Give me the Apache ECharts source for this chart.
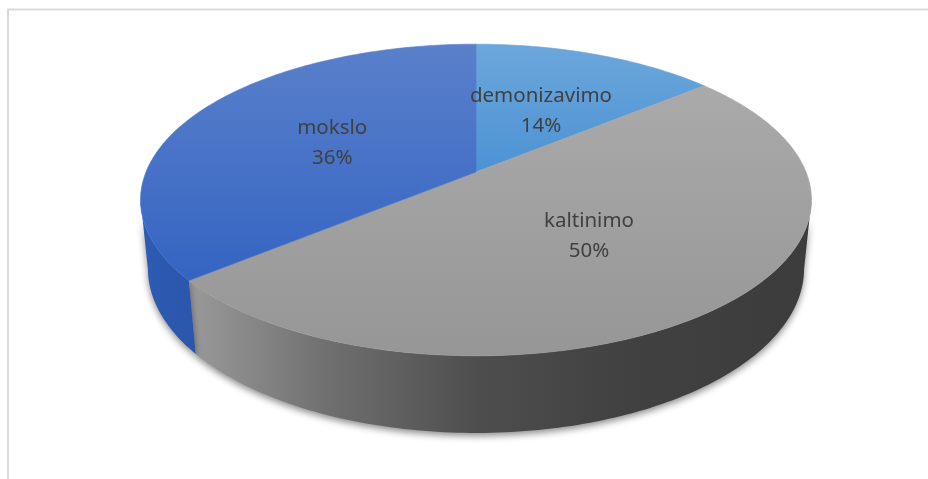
<!DOCTYPE html>
<html>
<head>
<meta charset="utf-8">
<script src="https://cdn.jsdelivr.net/npm/echarts@6/dist/echarts.min.js"></script>
<style>
  html, body { margin: 0; padding: 0; background: #fff; }
  #chart { width: 928px; height: 479px; }
</style>
</head>
<body>
<div id="chart"></div>
<script>
// data
var categories = ["demonizavimo", "kaltinimo", "mokslo"];
var values = [14, 50, 36];

// colours per slice (top face gradient)
var topColors = [
  ["#6ca7db", "#4c92d4"],
  ["#aaaaaa", "#969696"],
  ["#5a80cb", "#3464c2"]
];

var total = values.reduce(function (s, v) { return s + v; }, 0);
var startAngle = [];
var acc = 0;
for (var i = 0; i < values.length; i++) {
  startAngle.push(acc / total * 360);
  acc += values[i];
}

// 3d look: tilted disc with a bit of perspective
var cx = 476, cy = 172, k = 330;
var sinA = 0.457, cosA = 0.889, dist = 4.95, thick = 0.235;
var visFrom = Math.acos(-cosA / dist) * 180 / Math.PI; // left/right silhouette
var visTo = 360 - visFrom;

function proj(deg, r, level) {
  var t = deg * Math.PI / 180;
  var X = r * Math.sin(t), Z = -r * Math.cos(t), Y = level;
  var yc = Y * cosA - Z * sinA;
  var zc = Y * sinA + Z * cosA;
  var sc = dist / (dist - zc);
  return [cx + k * X * sc, cy - k * yc * sc];
}

function arc(a0, a1, level) {
  var pts = [];
  var n = Math.max(2, Math.ceil(Math.abs(a1 - a0)));
  for (var j = 0; j <= n; j++) {
    pts.push(proj(a0 + (a1 - a0) * j / n, 1, level));
  }
  return pts;
}

function wallFill(idx) {
  if (idx === 1) {
    return new echarts.graphic.LinearGradient(0, 0, 1, 0, [
      { offset: 0, color: "#9a9a9a" },
      { offset: 0.22, color: "#707070" },
      { offset: 0.46, color: "#4e4e4e" },
      { offset: 0.7, color: "#414141" },
      { offset: 1, color: "#3c3c3c" }
    ]);
  }
  if (idx === 2) {
    return new echarts.graphic.LinearGradient(0, 0, 1, 0, [
      { offset: 0, color: "#2d5cb3" },
      { offset: 1, color: "#2a56ab" }
    ]);
  }
  return "#3f7fc0";
}

function renderSlice(params, api) {
  var idx = params.dataIndex;
  var v = api.value(0);
  var a0 = startAngle[idx];
  var a1 = a0 + v / total * 360;
  var children = [];

  // side wall (only the front part is visible)
  var w0 = Math.max(a0, visFrom), w1 = Math.min(a1, visTo);
  if (w1 > w0) {
    var wall = arc(w0, w1, 0).concat(arc(w1, w0, -thick));
    children.push({
      type: "polygon",
      z2: 1,
      shape: { points: wall },
      style: {
        fill: wallFill(idx),
        shadowBlur: 7,
        shadowColor: "rgba(0,0,0,0.45)",
        shadowOffsetY: 3
      }
    });
  }

  // top face
  var grad = new echarts.graphic.LinearGradient(0, 0, 0, 1, [
    { offset: 0, color: topColors[idx][0] },
    { offset: 1, color: topColors[idx][1] }
  ]);
  var top = [proj(0, 0, 0)].concat(arc(a0, a1, 0));
  children.push({
    type: "polygon",
    z2: 10,
    shape: { points: top },
    style: { fill: grad, stroke: grad, lineWidth: 0.6 }
  });

  // label
  var mid = (a0 + a1) / 2;
  var lp = proj(mid, 0.5, 0);
  children.push({
    type: "text",
    z2: 20,
    x: lp[0],
    y: lp[1] + 2,
    style: {
      text: categories[idx] + "\n" + Math.round(v / total * 100) + "%",
      fill: "#404040",
      fontFamily: "Noto Sans",
      fontSize: 20.5,
      lineHeight: 30,
      align: "center",
      verticalAlign: "middle"
    }
  });

  return { type: "group", children: children };
}

var myChart = echarts.init(document.getElementById("chart"));
var option = {
  backgroundColor: "#ffffff",
  animation: false,
  graphic: [
    {
      type: "rect",
      shape: { x: 8, y: 9.5, width: 940, height: 500 },
      style: { fill: "none", stroke: "#d9d9d9", lineWidth: 2 },
      silent: true
    }
  ],
  series: [
    {
      type: "custom",
      coordinateSystem: "none",
      renderItem: renderSlice,
      data: values.map(function (v) { return [v]; })
    }
  ]
};
myChart.setOption(option);
</script>
</body>
</html>
